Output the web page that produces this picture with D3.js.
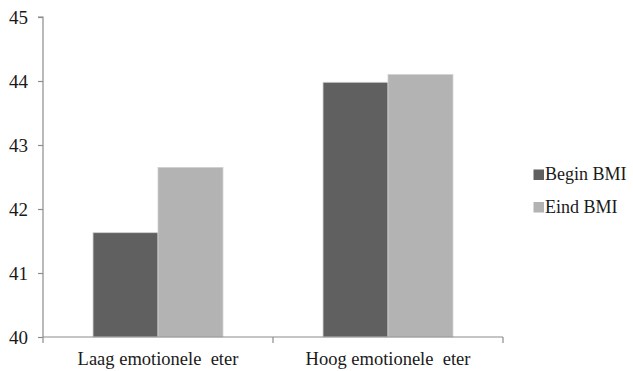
<!DOCTYPE html>
<html>
<head>
<meta charset="utf-8">
<script src="https://cdn.jsdelivr.net/npm/d3@7"></script>
<style>
  html, body { margin: 0; padding: 0; background: #fff; }
  #chart text { font-family: "Liberation Serif", "Times New Roman", serif; }
</style>
</head>
<body>
<svg id="chart" width="633" height="371"></svg>
<script>
// Groups and BMI series
const categories = ["Laag emotionele  eter", "Hoog emotionele  eter"];
const seriesNames = ["Begin BMI", "Eind BMI"];
const beginBMI = [41.63, 43.98];
const eindBMI = [42.65, 44.1];
const yTicks = [40, 41, 42, 43, 44, 45];
const colors = ["#606060", "#b3b3b3"];

const TEXT = "#1a1a1a";

const svg = d3.select("#chart");
const plotLeft = 43, plotRight = 503, plotTop = 17, plotBottom = 337;

const x0 = d3.scaleBand().domain(categories).range([plotLeft, plotRight]).paddingInner(0).paddingOuter(0);
const x1 = d3.scaleBand().domain(seriesNames).range([0, x0.bandwidth()]).paddingInner(0).paddingOuter(0.77);
const y = d3.scaleLinear().domain([40, 45]).range([plotBottom, plotTop]);

const values = [beginBMI, eindBMI];

// Bars
categories.forEach((c, ci) => {
  seriesNames.forEach((s, si) => {
    svg.append("rect")
      .attr("x", x0(c) + x1(s))
      .attr("y", y(values[si][ci]))
      .attr("width", x1.bandwidth())
      .attr("height", y(40) - y(values[si][ci]))
      .attr("fill", colors[si])
      .attr("stroke", "#d0d0d0")
      .attr("stroke-width", 0.8);
  });
});

// Y axis
const yAxis = d3.axisLeft(y).tickValues(yTicks).tickSize(5).tickPadding(10).tickFormat(d3.format("d"));
const gy = svg.append("g").attr("transform", `translate(${plotLeft},0)`).call(yAxis)
  .attr("font-size", 19);
gy.select(".domain").attr("stroke", "#8c8c8c").attr("stroke-width", 1.2).attr("d", `M-5,${plotTop}H0V${plotBottom}`);
gy.selectAll(".tick line").attr("stroke", "#8c8c8c").attr("stroke-width", 1.2);
gy.selectAll(".tick text").attr("fill", TEXT);

// X axis with boundary ticks between groups
const gx = svg.append("g").attr("transform", `translate(0,${plotBottom})`);
gx.append("line").attr("x1", plotLeft).attr("x2", plotRight).attr("y1", 0).attr("y2", 0)
  .attr("stroke", "#8c8c8c").attr("stroke-width", 1.2);
const boundaries = [plotLeft, ...categories.map(c => x0(c) + x0.bandwidth())];
gx.selectAll(".bt").data(boundaries).enter().append("line")
  .attr("x1", d => d).attr("x2", d => d).attr("y1", 0).attr("y2", 6)
  .attr("stroke", "#8c8c8c").attr("stroke-width", 1.2);
gx.selectAll(".cl").data(categories).enter().append("text")
  .attr("x", d => x0(d) + x0.bandwidth() / 2)
  .attr("y", 28)
  .attr("text-anchor", "middle")
  .attr("font-size", 18.5)
  .attr("fill", TEXT)
  .style("white-space", "pre")
  .text(d => d);

// Legend
const lg = svg.append("g").attr("transform", "translate(533.5,169.5)");
seriesNames.forEach((s, i) => {
  const g = lg.append("g").attr("transform", `translate(0,${i * 32.5})`);
  g.append("rect").attr("width", 10.5).attr("height", 10.5).attr("fill", colors[i]);
  g.append("text").attr("x", 11.5).attr("y", 10.5)
    .attr("font-size", 18).attr("fill", TEXT)
    .text(s);
});
</script>
</body>
</html>
